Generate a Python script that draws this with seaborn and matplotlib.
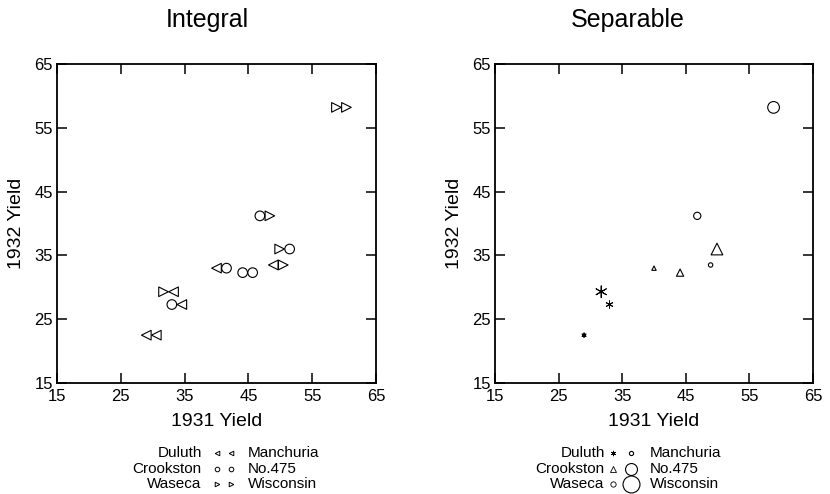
import numpy as np
import pandas as pd
import seaborn as sns
import matplotlib.pyplot as plt
from matplotlib.transforms import ScaledTranslation

# barley yields, site x variety
sites = ["Duluth", "Duluth", "Duluth",
         "Crookston", "Crookston", "Crookston",
         "Waseca", "Waseca", "Waseca"]
varieties = ["Manchuria", "No.475", "Wisconsin"] * 3
yield_1931 = [29.0, 33.0, 31.7, 40.0, 44.1, 49.9, 48.9, 46.8, 58.8]
yield_1932 = [22.5, 27.3, 29.3, 33.0, 32.3, 36.0, 33.5, 41.2, 58.2]

site_order = ["Duluth", "Crookston", "Waseca"]
variety_order = ["Manchuria", "No.475", "Wisconsin"]
ticks = [15, 25, 35, 45, 55, 65]

df = pd.DataFrame({"site": sites, "variety": varieties,
                   "y1931": yield_1931, "y1932": yield_1932})

# integral coding: same three glyphs for both factors
site_glyph = {"Duluth": "<", "Crookston": "o", "Waseca": ">"}
variety_glyph = {"Manchuria": "<", "No.475": "o", "Wisconsin": ">"}
# separable coding: shape for site, size for variety
site_marker = {"Duluth": (6, 2, 0), "Crookston": "^", "Waseca": "o"}
variety_size = {"Manchuria": 10, "No.475": 27, "Wisconsin": 71}

sns.set_style("ticks")
plt.rcParams["font.family"] = ["Liberation Sans", "DejaVu Sans"]
plt.rcParams["text.color"] = "black"
plt.rcParams["axes.labelcolor"] = "black"

fig = plt.figure(figsize=(8.3, 4.94), dpi=100)
ax1 = fig.add_axes([57 / 830, 111 / 494, 319 / 830, 319 / 494])
ax2 = fig.add_axes([495 / 830, 111 / 494, 318 / 830, 319 / 494])

# Integral: variety glyph at the point, site glyph just to the right
sns.scatterplot(data=df, x="y1931", y="y1932", style="variety",
                markers=variety_glyph, style_order=variety_order, s=48,
                color="k", facecolor="none", edgecolor="k", linewidth=0.8,
                legend=False, ax=ax1)
sns.scatterplot(data=df, x="y1931", y="y1932", style="site",
                markers=site_glyph, style_order=site_order, s=48,
                color="k", facecolor="none", edgecolor="k", linewidth=0.8,
                legend=False, ax=ax1)
ax1.collections[-1].set_offset_transform(
    ax1.transData + ScaledTranslation(0.1, 0, fig.dpi_scale_trans))

# Separable
for site in site_order:
    sub = df[df["site"] == site]
    if site == "Duluth":
        kw = dict(color="k", edgecolor=None, linewidth=0.7)
    else:
        kw = dict(color="k", facecolor="none", edgecolor="k", linewidth=0.8)
    sns.scatterplot(data=sub, x="y1931", y="y1932", size="variety",
                    sizes=variety_size, size_order=variety_order,
                    marker=site_marker[site], legend=False, ax=ax2, **kw)

for ax in (ax1, ax2):
    ax.set_xlim(15, 65)
    ax.set_ylim(15, 65)
    ax.set_xticks(ticks)
    ax.set_yticks(ticks)
    ax.tick_params(direction="in", length=7, width=1.1, top=True, right=True,
                   labelsize=12, colors="k")
    ax.tick_params(axis="x", pad=4)
    ax.tick_params(axis="y", pad=3)
    for sp in ax.spines.values():
        sp.set_linewidth(1.3)
        sp.set_color("k")
    ax.set_xlabel("1931 Yield", fontsize=14, color="k")
    ax.set_ylabel("1932 Yield", fontsize=14, color="k")
    ax.xaxis.set_label_coords(0.5, -0.095)
    ax.yaxis.set_label_coords(-0.1, 0.5)

fig.text(207 / 830, 1 - 26.7 / 494, "Integral", ha="center", va="baseline",
         fontsize=18, color="k")
fig.text(628 / 830, 1 - 26.7 / 494, "Separable", ha="center", va="baseline",
         fontsize=18, color="k")

rows = [-0.2195, -0.2685, -0.316]

# key under Integral
for i in range(3):
    s, v = site_order[i], variety_order[i]
    ax1.text(0.4536, rows[i], s, ha="right", va="center", fontsize=11,
             transform=ax1.transAxes)
    ax1.plot(0.5006, rows[i], marker=site_glyph[s], ms=3.3, mfc="none", mec="k",
             mew=0.7, transform=ax1.transAxes, clip_on=False)
    ax1.plot(0.5455, rows[i], marker=variety_glyph[v], ms=3.3, mfc="none", mec="k",
             mew=0.7, transform=ax1.transAxes, clip_on=False)
    ax1.text(0.5987, rows[i], v, ha="left", va="center", fontsize=11,
             transform=ax1.transAxes)

# key under Separable
key_size = {"Manchuria": 3.0, "No.475": 8.6, "Wisconsin": 12.2}
for i in range(3):
    s, v = site_order[i], variety_order[i]
    ax2.text(0.3448, rows[i], s, ha="right", va="center", fontsize=11,
             transform=ax2.transAxes)
    ax2.plot(0.3699, rows[i], marker=site_marker[s], ms=3.8, mfc="none", mec="k",
             mew=0.6, transform=ax2.transAxes, clip_on=False)
    ax2.plot(0.4263, rows[i], marker="o", ms=key_size[v], mfc="none", mec="k",
             mew=0.8, transform=ax2.transAxes, clip_on=False)
    ax2.text(0.4859, rows[i], v, ha="left", va="center", fontsize=11,
             transform=ax2.transAxes)

fig.savefig("out.png", dpi=100)
